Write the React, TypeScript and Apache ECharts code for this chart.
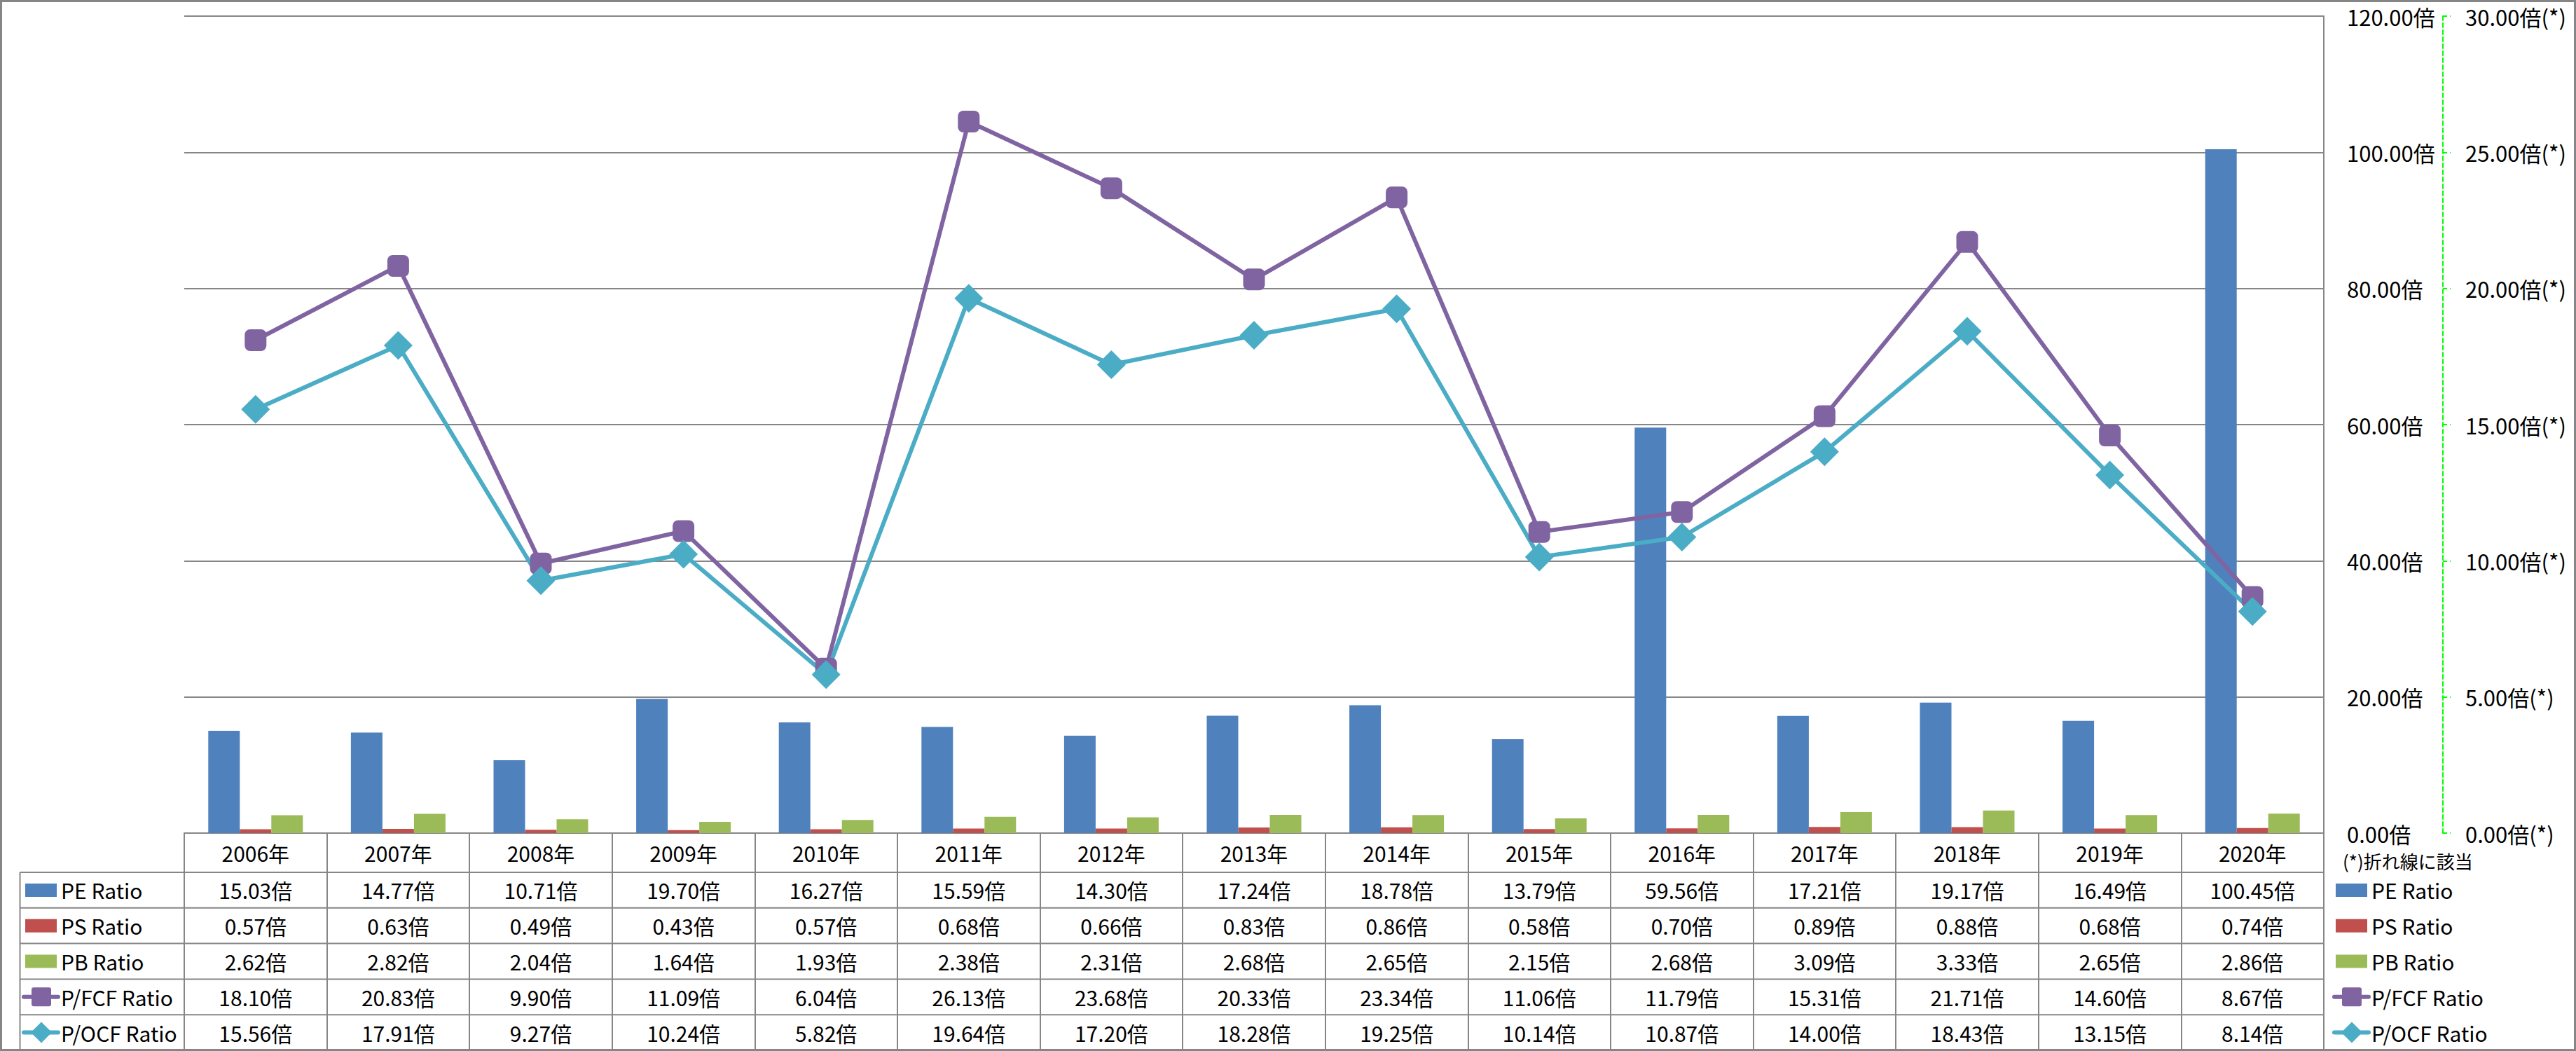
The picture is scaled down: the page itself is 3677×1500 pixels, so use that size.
import React, { useEffect, useRef } from "react";
import * as echarts from "echarts";

const years = ["2006年", "2007年", "2008年", "2009年", "2010年", "2011年", "2012年", "2013年", "2014年", "2015年", "2016年", "2017年", "2018年", "2019年", "2020年"];
const peRatio = [15.03, 14.77, 10.71, 19.7, 16.27, 15.59, 14.3, 17.24, 18.78, 13.79, 59.56, 17.21, 19.17, 16.49, 100.45];
const psRatio = [0.57, 0.63, 0.49, 0.43, 0.57, 0.68, 0.66, 0.83, 0.86, 0.58, 0.7, 0.89, 0.88, 0.68, 0.74];
const pbRatio = [2.62, 2.82, 2.04, 1.64, 1.93, 2.38, 2.31, 2.68, 2.65, 2.15, 2.68, 3.09, 3.33, 2.65, 2.86];
const pfcfRatio = [18.1, 20.83, 9.9, 11.09, 6.04, 26.13, 23.68, 20.33, 23.34, 11.06, 11.79, 15.31, 21.71, 14.6, 8.67];
const pocfRatio = [15.56, 17.91, 9.27, 10.24, 5.82, 19.64, 17.2, 18.28, 19.25, 10.14, 10.87, 14.0, 18.43, 13.15, 8.14];

const seriesNames = ["PE Ratio", "PS Ratio", "PB Ratio", "P/FCF Ratio", "P/OCF Ratio"];
const seriesData = [peRatio, psRatio, pbRatio, pfcfRatio, pocfRatio];
const colors = ["#4F81BD", "#C0504D", "#9BBB59", "#8064A2", "#4BACC6"];

const primaryMax = 120;
const primaryInterval = 20;
const secondaryMax = 30;
const secondaryInterval = 5;
const noteText = "(*)折れ線に該当";

const FONT = '"Noto Sans CJK JP", "Noto Sans", sans-serif';
const W = 3677;
const H = 1500;
const GRAY = "#868686";

export default function App() {
  const ref = useRef<HTMLDivElement>(null);
  useEffect(() => {
    const el = ref.current!;
    const chart = echarts.init(el, null, { renderer: "svg" });
    const fmt = (v: number) => v.toFixed(2) + "倍";
    const option: any = {
      animation: false,
      backgroundColor: "#ffffff",
      grid: { left: 263, right: W - 3317, top: 23, bottom: H - 1189, containLabel: false },
      xAxis: {
        type: "category",
        data: years,
        boundaryGap: true,
        axisLine: { show: true, lineStyle: { color: GRAY, width: 2 } },
        axisTick: { show: true, length: 309, lineStyle: { color: GRAY, width: 2 } },
        axisLabel: { fontSize: 30, fontFamily: FONT, color: "#000", margin: 13 },
        splitLine: { show: false },
      },
      yAxis: [
        {
          type: "value",
          position: "right",
          min: 0,
          max: primaryMax,
          interval: primaryInterval,
          axisLine: { show: true, lineStyle: { color: GRAY, width: 2 } },
          axisTick: { show: false },
          splitLine: { show: true, lineStyle: { color: GRAY, width: 2 } },
          axisLabel: { fontSize: 31, fontFamily: FONT, color: "#000", margin: 33, formatter: (v: number) => fmt(v) },
        },
        {
          type: "value",
          position: "right",
          offset: 170,
          min: 0,
          max: secondaryMax,
          interval: secondaryInterval,
          axisLine: { show: true, lineStyle: { color: "#00FF00", width: 2, type: [6, 4] } },
          axisTick: { show: true, length: 11, lineStyle: { color: "#00FF00", width: 2, type: [6, 4] } },
          splitLine: { show: false },
          axisLabel: { fontSize: 31, fontFamily: FONT, color: "#000", margin: 32, formatter: (v: number) => fmt(v) + "(*)" },
        },
      ],
      series: [
        { name: seriesNames[0], type: "bar", data: peRatio, barWidth: 45, barGap: "0%", itemStyle: { color: colors[0] } },
        { name: seriesNames[1], type: "bar", data: psRatio, barWidth: 45, barGap: "0%", itemStyle: { color: colors[1] } },
        { name: seriesNames[2], type: "bar", data: pbRatio, barWidth: 45, barGap: "0%", itemStyle: { color: colors[2] } },
        {
          name: seriesNames[3],
          type: "line",
          yAxisIndex: 1,
          data: pfcfRatio,
          symbol: "roundRect",
          symbolSize: 31,
          lineStyle: { color: colors[3], width: 6 },
          itemStyle: { color: colors[3] },
        },
        {
          name: seriesNames[4],
          type: "line",
          yAxisIndex: 1,
          data: pocfRatio,
          symbol: "diamond",
          symbolSize: 41,
          lineStyle: { color: colors[4], width: 6 },
          itemStyle: { color: colors[4] },
        },
      ],
    };
    chart.setOption(option);

    const centers = years.map((y) => chart.convertToPixel({ xAxisIndex: 0 }, y) as number);
    const colW = centers[1] - centers[0];
    const tableRight = centers[centers.length - 1] + colW / 2;
    const axisY = chart.convertToPixel({ yAxisIndex: 0 }, 0) as number;
    const headerH = 56;
    const rowH = 50.8;
    const tableLeft = 28.5;
    const elements: any[] = [];

    for (let r = 0; r <= seriesNames.length; r++) {
      const y = axisY + headerH + r * rowH;
      elements.push({ type: "line", shape: { x1: tableLeft, y1: y, x2: tableRight, y2: y }, style: { stroke: GRAY, lineWidth: 2 }, z: 10 });
    }
    elements.push({
      type: "line",
      shape: { x1: tableLeft, y1: axisY + headerH, x2: tableLeft, y2: axisY + headerH + seriesNames.length * rowH },
      style: { stroke: GRAY, lineWidth: 2 },
      z: 10,
    });

    // legend key: icon + name, drawn at a given x (table row header and right-hand legend)
    const pushKey = (x0: number, cy: number, r: number) => {
      if (r < 3) {
        elements.push({ type: "rect", shape: { x: x0 + 2, y: cy - 9.5, width: 45, height: 19 }, style: { fill: colors[r] }, z: 10 });
      } else {
        elements.push({ type: "line", shape: { x1: x0, y1: cy, x2: x0 + 49, y2: cy }, style: { stroke: colors[r], lineWidth: 6, lineCap: "round" }, z: 10 });
        if (r === 3) {
          elements.push({ type: "rect", shape: { x: x0 + 11, y: cy - 13.5, width: 28, height: 27, r: 3 }, style: { fill: colors[r] }, z: 11 });
        } else {
          elements.push({
            type: "polygon",
            shape: { points: [[x0 + 25, cy - 15], [x0 + 40, cy], [x0 + 25, cy + 15], [x0 + 10, cy]] },
            style: { fill: colors[r] },
            z: 11,
          });
        }
      }
      elements.push({
        type: "text",
        x: x0 + 53,
        y: cy,
        style: { text: seriesNames[r], fontSize: 30, fontFamily: FONT, fill: "#000", align: "left", verticalAlign: "middle", textAlign: "left", textVerticalAlign: "middle" },
        z: 10,
      });
    };

    seriesNames.forEach((_name, r) => {
      const cy = axisY + headerH + (r + 0.5) * rowH;
      pushKey(34, cy, r);
      pushKey(3332, cy, r);
      seriesData[r].forEach((v, i) => {
        elements.push({
          type: "text",
          x: centers[i],
          y: cy,
          style: { text: fmt(v), fontSize: 30, fontFamily: FONT, fill: "#000", align: "center", verticalAlign: "middle", textAlign: "center", textVerticalAlign: "middle" },
          z: 10,
        });
      });
    });

    elements.push({
      type: "text",
      x: 3344,
      y: axisY + 39,
      style: { text: noteText, fontSize: 26, fontFamily: FONT, fill: "#000", align: "left", verticalAlign: "middle", textAlign: "left", textVerticalAlign: "middle" },
      z: 10,
    });

    elements.push({
      type: "rect",
      shape: { x: 1.5, y: 1.5, width: W - 3, height: H - 3 },
      style: { fill: "none", stroke: GRAY, lineWidth: 3 },
      z: 20,
    });

    chart.setOption({ graphic: { elements } });
    return () => chart.dispose();
  }, []);
  return <div ref={ref} style={{ position: "absolute", left: 0, top: 0, width: W, height: H, background: "#fff" }} />;
}
